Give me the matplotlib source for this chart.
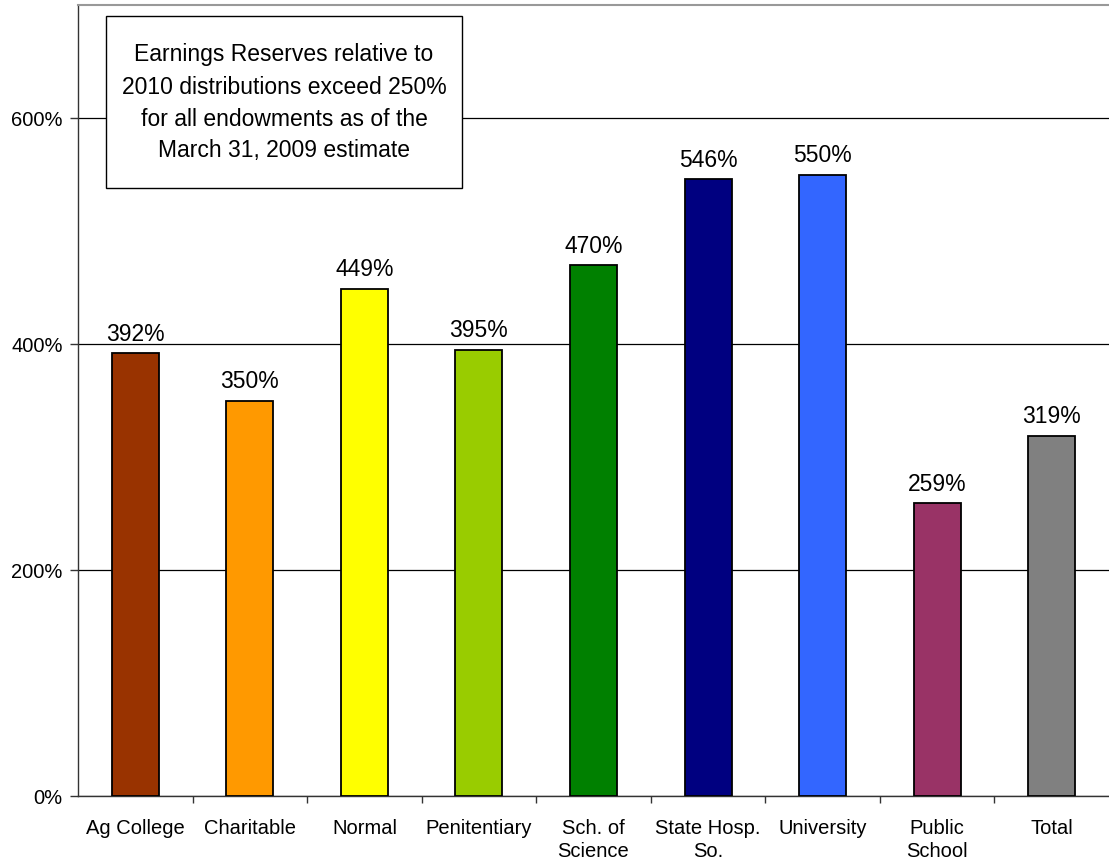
import matplotlib
matplotlib.use('Agg')
import matplotlib.pyplot as plt
import matplotlib.patches as patches
import numpy as np

plt.rcParams['font.family'] = ['Liberation Sans', 'DejaVu Sans']

categories = ["Ag College", "Charitable", "Normal", "Penitentiary", "Sch. of\nScience",
              "State Hosp.\nSo.", "University", "Public\nSchool", "Total"]
values = [392, 350, 449, 395, 470, 546, 550, 259, 319]
bar_colors = ["#993300", "#FF9900", "#FFFF00", "#99CC00", "#008000",
              "#000080", "#3366FF", "#993366", "#808080"]
y_ticks = [0, 200, 400, 600]
note = ("Earnings Reserves relative to\n2010 distributions exceed 250%\n"
        "for all endowments as of the\nMarch 31, 2009 estimate")

fig = plt.figure(figsize=(11.09, 8.62), dpi=100, facecolor='white')
ax = fig.add_axes([78 / 1109, 1 - 797 / 862, 1031 / 1109, (797 - 6) / 862])

x = np.arange(len(categories))
ax.bar(x, values, width=0.41, color=bar_colors, edgecolor='black', linewidth=1.3, zorder=3)

for xi, v in zip(x, values):
    ax.annotate(f"{v}%", (xi, v), xytext=(0, 6), textcoords='offset points',
                ha='center', va='bottom', fontsize=16.5, color='black', zorder=4)

ax.set_xlim(-0.5, len(categories) - 0.5)
ax.set_ylim(0, 700)
ax.set_yticks(y_ticks)
ax.set_yticklabels([f"{t}%" for t in y_ticks])
ax.yaxis.grid(True, color='black', linewidth=0.9, zorder=0)
ax.set_axisbelow(True)

# category labels centred, ticks on the boundaries
ax.set_xticks(x)
ax.set_xticklabels(categories, linespacing=1.25)
ax.tick_params(axis='x', which='major', length=0, pad=16, labelsize=14.5)
ax.set_xticks(np.arange(len(categories) - 1) + 0.5, minor=True)
ax.tick_params(axis='x', which='minor', length=5, width=1, color='#333333', direction='out')
ax.tick_params(axis='y', length=6, width=1, color='#333333', pad=5, labelsize=14.5)

for side in ['left', 'bottom']:
    ax.spines[side].set_color('#333333')
    ax.spines[side].set_linewidth(1)
ax.spines['top'].set_color('#999999')
ax.spines['top'].set_linewidth(1.5)
ax.spines['right'].set_visible(False)

# note box
box_x0, box_x1 = (106 - 78) / 1031, (462 - 78) / 1031
box_y0, box_y1 = (797 - 189) / 791, (797 - 17) / 791
ax.add_patch(patches.Rectangle((box_x0, box_y0), box_x1 - box_x0, box_y1 - box_y0,
                               transform=ax.transAxes, facecolor='white',
                               edgecolor='black', linewidth=1, zorder=5))
ax.text((box_x0 + box_x1) / 2, (box_y0 + box_y1) / 2, note, transform=ax.transAxes,
        ha='center', va='center', fontsize=16.5, linespacing=1.5, zorder=6)

fig.savefig('out.png', dpi=100, facecolor='white')
